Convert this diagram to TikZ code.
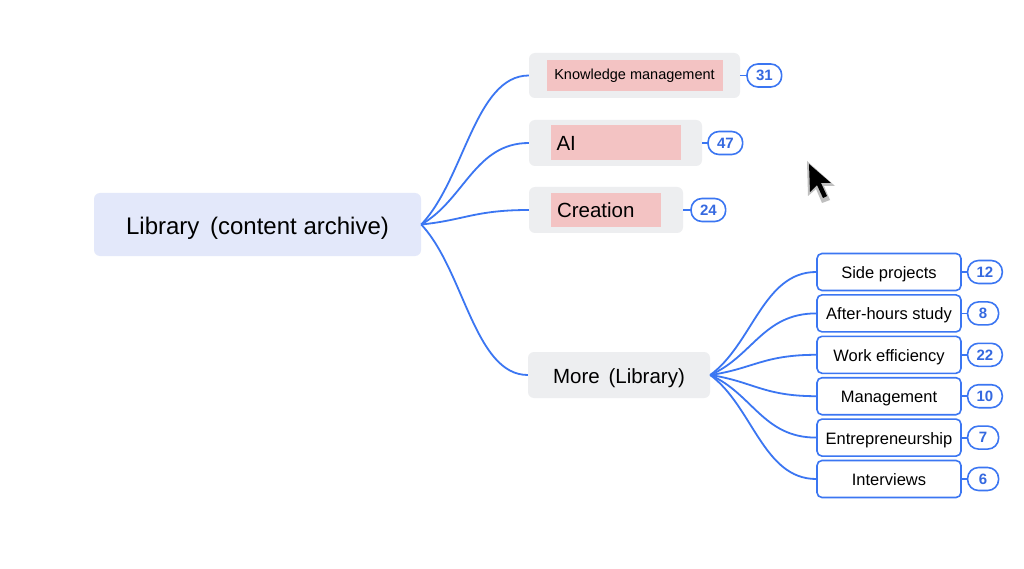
\documentclass[tikz,border=0pt]{standalone}
\usepackage{fontspec}
\setmainfont{Liberation Sans}
\usetikzlibrary{positioning,calc}

\definecolor{linkblue}{HTML}{3B76F2}
\definecolor{numblue}{HTML}{3569E0}
\definecolor{rootfill}{HTML}{E3E8FA}
\definecolor{boxgrey}{HTML}{EDEEF0}
\definecolor{tagpink}{HTML}{F3C3C3}

\tikzset{
  link/.style={draw=linkblue, line width=1.8pt},
  rootbox/.style={fill=rootfill, rounded corners=6pt, text height=24pt, text depth=4.5pt,
    font=\fontsize{24}{28}\selectfont},
  topbox/.style={fill=boxgrey, rounded corners=6pt},
  tag/.style={fill=tagpink, inner ysep=0pt},
  leaf/.style={draw=linkblue, line width=1.6pt, fill=white, rounded corners=5pt,
    text height=16pt, text depth=3pt,
    minimum width=144pt, minimum height=37pt, font=\fontsize{16.5}{19}\selectfont},
  badge/.style={draw=linkblue, line width=1.6pt, fill=white, rounded corners=11pt,
    minimum width=31pt, minimum height=23pt, inner xsep=9pt, inner ysep=2pt,
    text=numblue, font=\fontsize{15}{17}\selectfont\bfseries}
}

% curved mind-map branch, horizontal where it meets the child
\newcommand{\linkit}[2]{%
  \draw[link] let \p1=(#1), \p2=(#2) in
    (\p1) .. controls ({\x1+0.4*(\x2-\x1)},{\y1+0.3*(\y2-\y1)})
             and ({\x1+0.5*(\x2-\x1)},\y2) .. (\p2);}

\begin{document}
\begin{tikzpicture}[x=1pt,y=-1pt]
  \fill[white] (0,0) rectangle (1024,569);
  \useasboundingbox (0,0) rectangle (1024,569);

  \node[rootbox, minimum width=327pt, minimum height=63pt] (root) at (257.5,224.5)
    {Library\hspace{4pt} (content archive)};

  % tagged topics
  \node[topbox, minimum width=211pt, minimum height=45pt] (km) at (634.5,75.5) {};
  \node[tag, minimum width=176pt, minimum height=31pt, font=\fontsize{14.5}{17}\selectfont]
    (kmtag) at (km) {Knowledge management};
  \node[badge, right=6pt of km] (kmn) {31};

  \node[topbox, minimum width=173pt, minimum height=46pt] (ai) at (615.5,143) {};
  \node[tag, text width=118pt, align=left, inner xsep=6pt, minimum height=35pt,
    font=\fontsize{20.5}{24}\selectfont] (aitag) at (ai) {AI};
  \node[badge, right=5pt of ai] (ain) {47};

  \node[topbox, minimum width=154pt, minimum height=46pt] (creation) at (606,210) {};
  \node[tag, text width=98pt, align=left, inner xsep=6pt, minimum height=34pt,
    font=\fontsize{20.5}{24}\selectfont] (creationtag) at (creation) {Creation};
  \node[badge, right=7pt of creation] (creationn) {24};

  \node[topbox, minimum width=182pt, minimum height=46pt, text height=20pt, text depth=4pt,
    font=\fontsize{20.5}{24}\selectfont] (more) at (619,375) {More\hspace{3pt} (Library)};

  \foreach \kid in {km,ai,creation,more}
    \linkit{root.east}{\kid.west}
  \foreach \kid in {km,ai,creation}
    \draw[link] (\kid) -- (\kid n);

  % sub-topics of More
  \foreach \name/\txt/\num [count=\i] in {side/Side projects/12,
      study/After-hours study/8, efficiency/Work efficiency/22,
      mgmt/Management/10, startup/Entrepreneurship/7, interviews/Interviews/6} {
    \node[leaf] (\name) at (889,{272+41.4*(\i-1)}) {\txt};
    \node[badge, right=5pt of \name] (\name n) {\num};
    \draw[link] (\name) -- (\name n);
    \linkit{more.east}{\name.west}
  }

  % mouse pointer
  \fill[black!25] (807,161) -- (808,196) -- (816,189) -- (822,203) -- (830,200)
    -- (824,186) -- (835,186) -- cycle;
  \fill[black] (809,164) -- (810,192) -- (817,185) -- (823,198) -- (827,196)
    -- (821,183) -- (831,183) -- cycle;
\end{tikzpicture}
\end{document}
